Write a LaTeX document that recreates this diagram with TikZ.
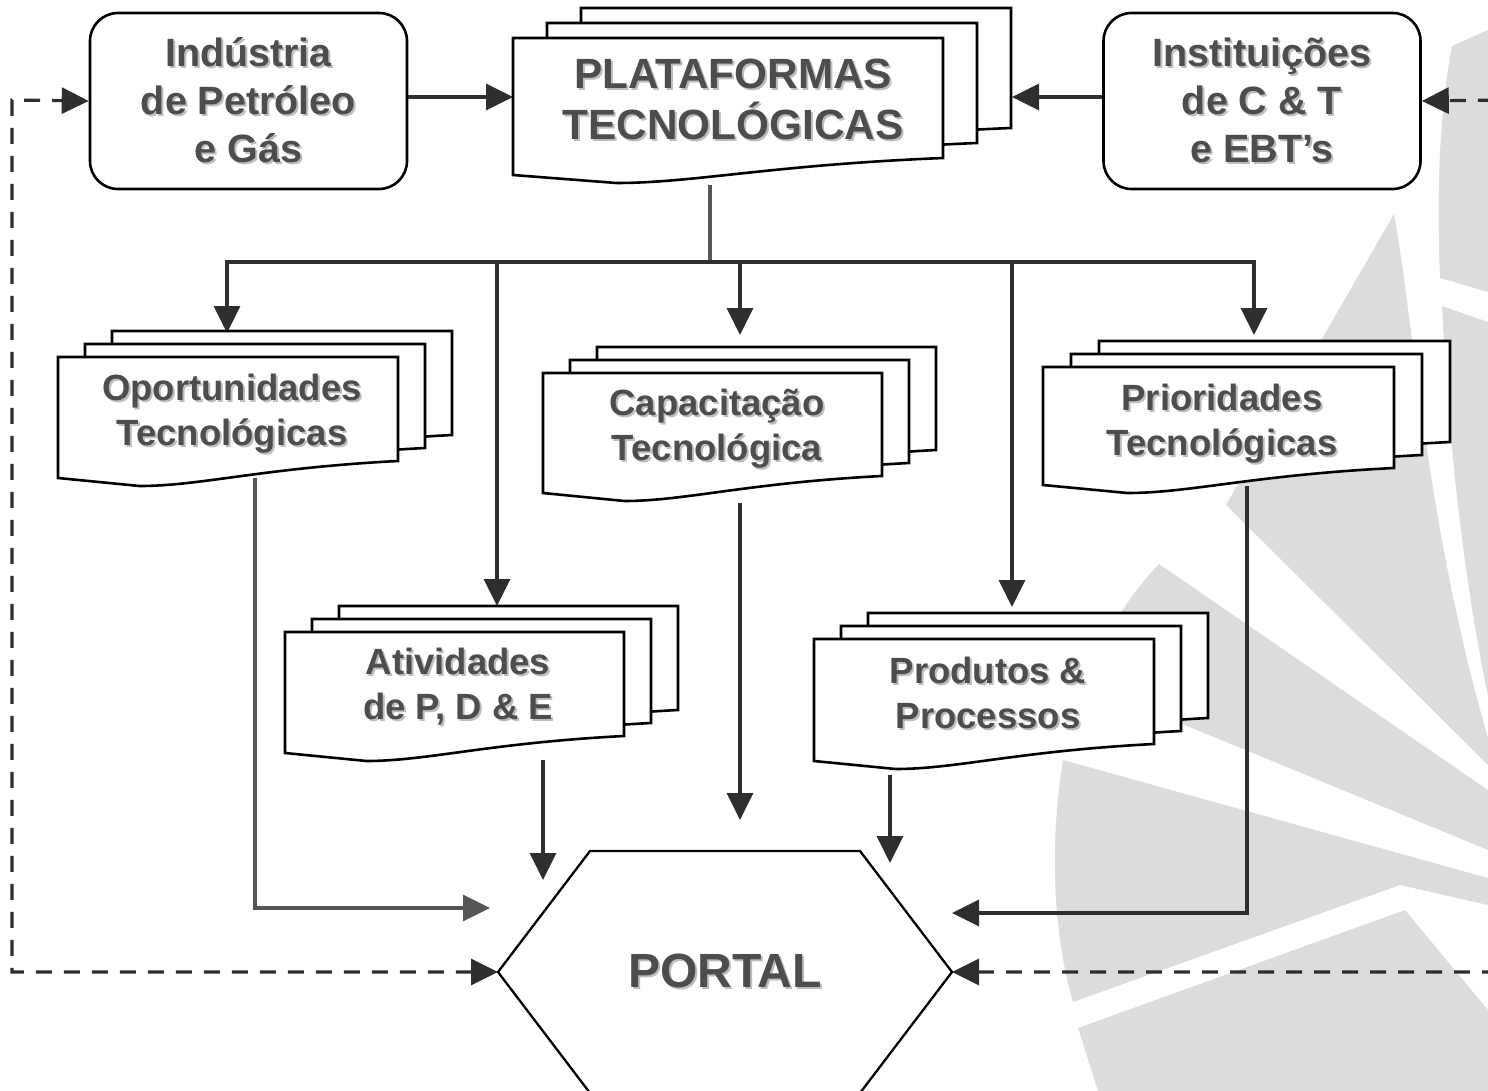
\documentclass[tikz,border=0pt]{standalone}
\usepackage{fontspec}
\setmainfont{Liberation Sans}
\usetikzlibrary{arrows.meta}
\definecolor{txt}{HTML}{4D4D4D}
\definecolor{shd}{HTML}{BDBDBD}
\definecolor{ln}{HTML}{2E2E2E}
\definecolor{lng}{HTML}{555555}
\definecolor{wm}{HTML}{DCDCDC}
\newcommand\sh[1]{\leavevmode\rlap{\hspace{2pt}\raisebox{-2pt}{\textcolor{shd}{#1}}}#1}
\newcommand\docpath[4]{\filldraw[docline] ({#1},{#2}) -- ({#1+#3},{#2}) -- ({#1+#3},{#2+#4-17}) .. controls ({#1+0.6*#3},{#2+#4-10}) and ({#1+0.42*#3},{#2+#4+8}) .. ({#1+0.24*#3},{#2+#4+8}) -- ({#1},{#2+#4}) -- cycle;}
\newcommand\multidoc[6]{%
  \pgfmathsetmacro\mdxa{#1+2*(#5)}\pgfmathsetmacro\mdya{#2+2*(#6)}%
  \pgfmathsetmacro\mdxb{#1+(#5)}\pgfmathsetmacro\mdyb{#2+(#6)}%
  \docpath{\mdxa}{\mdya}{#3}{#4}\docpath{\mdxb}{\mdyb}{#3}{#4}\docpath{#1}{#2}{#3}{#4}}
\tikzset{
  docline/.style={draw=black, line width=2.6pt, fill=white, line join=miter},
  roundbox/.style={draw=black, line width=2.6pt, fill=white, rounded corners=28pt, minimum width=317pt, minimum height=176pt, text=txt, font=\bfseries\fontsize{39.5}{48}\selectfont, align=center},
  lbl/.style={text=txt, font=\bfseries\fontsize{36.5}{45}\selectfont, align=center, inner sep=0pt},
  biglbl/.style={text=txt, font=\bfseries\fontsize{42.3}{51}\selectfont, align=center, inner sep=0pt},
  conn/.style={draw=ln, line width=3.2pt, line join=miter, -{Triangle[length=27pt,width=26pt]}},
  conng/.style={draw=lng, line width=3.2pt, line join=miter, -{Triangle[length=27pt,width=26pt]}},
  dconn/.style={draw=ln, line width=3.2pt, dash pattern=on 16pt off 12pt, {Triangle[length=27pt,width=26pt]}-{Triangle[length=27pt,width=26pt]}},
  hexline/.style={draw=black, line width=2.3pt, fill=white, line join=miter},
  wmfill/.style={fill=wm, draw=none}
}
\begin{document}
\begin{tikzpicture}[x=1pt,y=-1pt]
\useasboundingbox (0,0) rectangle (1488,1091);
% watermark
\begin{scope}
\clip (0,0) rectangle (1488,1091);
\path[wmfill] (1452,46) -- (1488,30) -- (1488,292) -- (1440,278) .. controls (1437,200) and (1438,120) .. (1452,46) -- cycle;
\path[wmfill] (1442,306) -- (1488,322) -- (1488,696) .. controls (1468,600) and (1450,470) .. (1442,306) -- cycle;
\path[wmfill] (1394,214) .. controls (1415,330) and (1425,520) .. (1488,738) -- (1488,765) -- (1226,505) -- cycle;
\path[wmfill] (1159,564) -- (1488,790) -- (1488,850) -- (1095,688) .. controls (1100,640) and (1125,600) .. (1159,564) -- cycle;
\path[wmfill] (1063,760) -- (1488,878) -- (1488,905) -- (1400,885) -- (1073,1002) .. controls (1052,930) and (1050,840) .. (1063,760) -- cycle;
\path[wmfill] (1078,1028) -- (1405,910) -- (1488,1010) -- (1488,1091) -- (1098,1091) -- cycle;
\end{scope}
% connectors (drawn below shapes)
\coordinate (platW) at (513,97);
\coordinate (platE) at (1012,97);
\coordinate (platS) at (710,185);
\coordinate (bus) at (710,262);
\coordinate (oportN) at (227,333);
\coordinate (ativN) at (497,606);
\coordinate (capacN) at (740,335);
\coordinate (prodN) at (1012,607);
\coordinate (priorN) at (1254,335);
\coordinate (oportS) at (255,478);
\coordinate (ativS) at (543,760);
\coordinate (capacS) at (740,503);
\coordinate (prodS) at (890,775);
\coordinate (priorS) at (1247,486);
\coordinate (portalW) at (498,972);
\coordinate (portalE) at (952,972);
\coordinate (portalL) at (490,908);
\coordinate (portalA) at (543,880);
\coordinate (portalC) at (740,820);
\coordinate (portalP) at (890,863);
\coordinate (portalR) at (952,913);
\coordinate (leftrail) at (12,100);
\coordinate (rightrail) at (1500,100);

\node[roundbox] (ind) at (248.5,101) {\sh{Indústria}\\\sh{de Petróleo}\\\sh{e Gás}};
\node[roundbox] (inst) at (1262,101) {\sh{Instituições}\\\sh{de C \& T}\\\sh{e EBT’s}};

\draw[conn] (ind.east |- platW) -- (platW);
\draw[conn] (inst.west |- platE) -- (platE);
\draw[dconn] (portalW) -- (leftrail |- portalW) -- (leftrail) -- (ind.west);
\draw[dconn] (portalE) -- (rightrail |- portalE) -- (rightrail) -- (inst.east);

\draw[draw=lng, line width=3.2pt] (platS) -- (bus);
\draw[conn] (bus) -| (oportN);
\draw[conn] (bus) -| (ativN);
\draw[conn] (bus) -| (capacN);
\draw[conn] (bus) -| (prodN);
\draw[conn] (bus) -| (priorN);

\draw[conng] (oportS) |- (portalL);
\draw[conn] (ativS) -- (portalA);
\draw[conn] (capacS) -- (portalC);
\draw[conn] (prodS) -- (portalP);
\draw[conn] (priorS) |- (portalR);

% documents
\multidoc{513}{38}{430}{137}{34}{-15}
\multidoc{58}{357}{340}{121}{27}{-13}
\multidoc{543}{373}{339}{120}{27}{-13}
\multidoc{1043}{367}{351}{118}{28}{-13}
\multidoc{285}{632}{339}{121}{27}{-13}
\multidoc{814}{639}{340}{122}{27}{-13}

\node[biglbl] (plat) at (733,100) {\sh{PLATAFORMAS}\\\sh{TECNOLÓGICAS}};
\node[lbl] (oport) at (232,415) {\sh{Oportunidades}\\\sh{Tecnológicas}};
\node[lbl] (capac) at (717,430) {\sh{Capacitação}\\\sh{Tecnológica}};
\node[lbl] (prior) at (1222,425) {\sh{Prioridades}\\\sh{Tecnológicas}};
\node[lbl] (ativ) at (458,688) {\sh{Atividades}\\\sh{de P, D \& E}};
\node[lbl] (prod) at (988,694) {\sh{Produtos \&}\\\sh{Processos}};

% portal hexagon
\filldraw[hexline] (portalW) -- (590,851) -- (860,851) -- (portalE) -- (860,1093) -- (590,1093) -- cycle;
\node[text=txt, font=\bfseries\fontsize{48}{56}\selectfont, inner sep=0pt] (portal) at (725,972) {\sh{PORTAL}};
\end{tikzpicture}
\end{document}
